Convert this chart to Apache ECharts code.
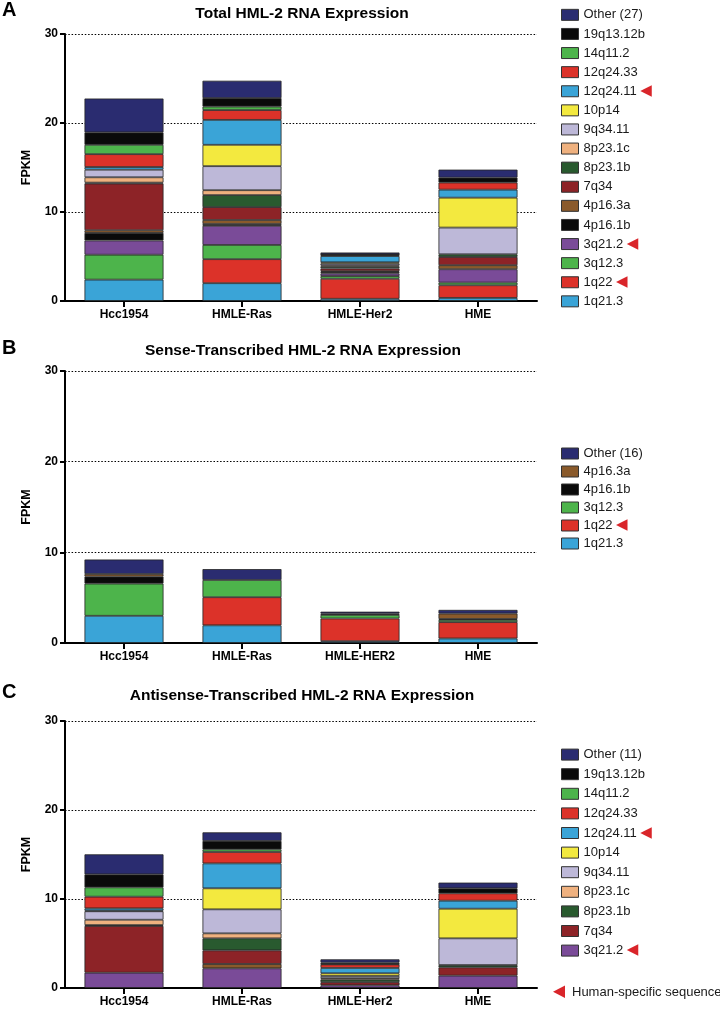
<!DOCTYPE html>
<html>
<head>
<meta charset="utf-8">
<script src="https://cdn.jsdelivr.net/npm/echarts@6/dist/echarts.min.js"></script>
<style>
html,body{margin:0;padding:0;background:#fff;}
#chart{width:720px;height:1010px;}
</style>
</head>
<body>
<div id="chart"></div>
<script>
// ---------- DATA ----------
const catsTotal = ['Hcc1954', 'HMLE-Ras', 'HMLE-Her2', 'HME'];
const catsSense = ['Hcc1954', 'HMLE-Ras', 'HMLE-HER2', 'HME'];
const catsAnti  = ['Hcc1954', 'HMLE-Ras', 'HMLE-Her2', 'HME'];
const yTicks = [0, 10, 20, 30];

// Panel A: Total HML-2 RNA expression (FPKM), stacked bottom -> top
const tot_1q21_3   = [2.4, 2.0, 0.25, 0.35];
const tot_1q22     = [null, 2.7, 2.25, 1.42];
const tot_3q12_3   = [2.8, 1.6, 0.3, 0.3];
const tot_3q21_2   = [1.6, 2.15, 0.3, 1.5];
const tot_4p16_1b  = [0.85, 0.2, 0.15, null];
const tot_4p16_3a  = [0.3, 0.45, 0.1, 0.45];
const tot_7q34     = [5.25, 1.45, 0.3, 0.93];
const tot_8p23_1b  = [0.1, 1.35, 0.2, 0.3];
const tot_8p23_1c  = [0.6, 0.55, 0.15, null];
const tot_9q34_11  = [0.85, 2.7, 0.2, 3.0];
const tot_10p14    = [null, 2.4, 0.15, 3.36];
const tot_12q24_11 = [0.3, 2.8, 0.7, 0.9];
const tot_12q24_33 = [1.45, 1.1, 0.1, 0.8];
const tot_14q11_2  = [1.05, 0.4, 0.05, null];
const tot_19q13_12b= [1.4, 0.95, 0.05, 0.55];
const tot_other    = [3.8, 1.95, 0.2, 0.9];

// Panel B: Sense-transcribed
const sen_1q21_3  = [3.0, 1.95, 0.2, 0.5];
const sen_1q22    = [null, 3.1, 2.5, 1.8];
const sen_3q12_3  = [3.55, 1.9, 0.4, 0.25];
const sen_4p16_1b = [0.78, null, 0.15, 0.1];
const sen_4p16_3a = [0.28, null, null, 0.6];
const sen_other   = [1.6, 1.2, 0.2, 0.4];

// Panel C: Antisense-transcribed
const ant_3q21_2   = [1.72, 2.21, 0.3, 1.39];
const ant_4p16_3a  = [null, 0.49, null, null];
const ant_7q34     = [5.25, 1.53, 0.35, 0.93];
const ant_8p23_1b  = [0.1, 1.35, 0.3, 0.26];
const ant_8p23_1c  = [0.6, 0.56, 0.15, null];
const ant_9q34_11  = [0.95, 2.7, 0.25, 3.0];
const ant_10p14    = [0.08, 2.36, 0.3, 3.33];
const ant_12q24_11 = [0.25, 2.8, 0.6, 0.9];
const ant_12q24_33 = [1.31, 1.28, 0.4, 0.83];
const ant_14q11_2  = [1.05, 0.3, 0.05, null];
const ant_19q13_12b= [1.46, 0.94, 0.15, 0.56];
const ant_other    = [2.25, 0.97, 0.37, 0.64];

const humanSpecific = ['12q24.11', '3q21.2', '1q22'];

// series lists (bottom -> top)
const totalList = [
  ['1q21.3', tot_1q21_3], ['1q22', tot_1q22], ['3q12.3', tot_3q12_3], ['3q21.2', tot_3q21_2],
  ['4p16.1b', tot_4p16_1b], ['4p16.3a', tot_4p16_3a], ['7q34', tot_7q34], ['8p23.1b', tot_8p23_1b],
  ['8p23.1c', tot_8p23_1c], ['9q34.11', tot_9q34_11], ['10p14', tot_10p14], ['12q24.11', tot_12q24_11],
  ['12q24.33', tot_12q24_33], ['14q11.2', tot_14q11_2], ['19q13.12b', tot_19q13_12b], ['Other (27)', tot_other]
];
const senseList = [
  ['1q21.3', sen_1q21_3], ['1q22', sen_1q22], ['3q12.3', sen_3q12_3],
  ['4p16.1b', sen_4p16_1b], ['4p16.3a', sen_4p16_3a], ['Other (16)', sen_other]
];
const antiList = [
  ['3q21.2', ant_3q21_2], ['4p16.3a', ant_4p16_3a], ['7q34', ant_7q34], ['8p23.1b', ant_8p23_1b],
  ['8p23.1c', ant_8p23_1c], ['9q34.11', ant_9q34_11], ['10p14', ant_10p14], ['12q24.11', ant_12q24_11],
  ['12q24.33', ant_12q24_33], ['14q11.2', ant_14q11_2], ['19q13.12b', ant_19q13_12b], ['Other (11)', ant_other]
];
const legendA = ['Other (27)','19q13.12b','14q11.2','12q24.33','12q24.11','10p14','9q34.11','8p23.1c','8p23.1b','7q34','4p16.3a','4p16.1b','3q21.2','3q12.3','1q22','1q21.3'];
const legendB = ['Other (16)','4p16.3a','4p16.1b','3q12.3','1q22','1q21.3'];
const legendC = ['Other (11)','19q13.12b','14q11.2','12q24.33','12q24.11','10p14','9q34.11','8p23.1c','8p23.1b','7q34','3q21.2'];

// ---------- STYLE ----------
const NAVY='#2a2c70', BLACK='#0a0a0a', GREEN='#4db44b', RED='#dc3229', BLUE='#3aa4d7',
      YELLOW='#f3e93f', LAV='#bdb8d8', PEACH='#efb17f', DKGREEN='#295a2f', DKRED='#8d2327',
      BROWN='#8a5a2b', PURPLE='#7a4b98';
const COLORS = {
  '1q21.3': BLUE, '1q22': RED, '3q12.3': GREEN, '3q21.2': PURPLE, '4p16.1b': BLACK, '4p16.3a': BROWN,
  '7q34': DKRED, '8p23.1b': DKGREEN, '8p23.1c': PEACH, '9q34.11': LAV, '10p14': YELLOW,
  '12q24.11': BLUE, '12q24.33': RED, '14q11.2': GREEN, '19q13.12b': BLACK,
  'Other (27)': NAVY, 'Other (16)': NAVY, 'Other (11)': NAVY
};
const FONT = 'Arial, "Liberation Sans", Helvetica, sans-serif';

const grids = [
  {left: 65, top: 34,  width: 472, height: 267},
  {left: 65, top: 371, width: 472, height: 272},
  {left: 65, top: 721, width: 472, height: 267}
];

function xAxis(idx, cats) {
  return {
    type: 'category', gridIndex: idx, data: cats,
    axisLine: {show: true, lineStyle: {color: '#000', width: 2}},
    axisTick: {show: true, alignWithLabel: true, length: 6, lineStyle: {color: '#000', width: 2}},
    axisLabel: {color: '#000', fontWeight: 'bold', fontSize: 12, fontFamily: FONT, margin: 8},
    splitLine: {show: false}
  };
}
function yAxis(idx) {
  return {
    type: 'value', gridIndex: idx, min: yTicks[0], max: yTicks[yTicks.length - 1], interval: 10,
    name: 'FPKM', nameLocation: 'middle', nameGap: 32, nameRotate: 90,
    nameTextStyle: {color: '#000', fontWeight: 'bold', fontSize: 12.5, fontFamily: FONT},
    axisLine: {show: true, lineStyle: {color: '#000', width: 2}},
    axisTick: {show: true, length: 5, lineStyle: {color: '#000', width: 2}},
    axisLabel: {color: '#000', fontWeight: 'bold', fontSize: 12, fontFamily: FONT, margin: 7},
    splitLine: {show: true, lineStyle: {color: '#000', width: 1.2, type: [1.5, 1.8]}}
  };
}
function buildSeries(list, idx) {
  return list.map(([name, data]) => ({
    name, type: 'bar', stack: 'panel' + idx, xAxisIndex: idx, yAxisIndex: idx,
    data, barWidth: 79,
    itemStyle: {color: COLORS[name], borderColor: '#262626', borderWidth: 0.8},
    emphasis: {disabled: true}
  }));
}
function legend(data, top, step) {
  return {
    orient: 'vertical', left: 556, top, itemGap: 0, itemWidth: 17, itemHeight: 11,
    icon: 'rect', data, selectedMode: false,
    itemStyle: {borderColor: '#333', borderWidth: 1},
    formatter: n => humanSpecific.includes(n) ? n + ' {tri|◀}' : n,
    textStyle: {
      fontSize: 13, fontFamily: FONT, color: '#1a1a1a', lineHeight: step,
      rich: {tri: {color: '#d9252a', fontSize: 15, fontFamily: '"DejaVu Sans"', lineHeight: step}}
    }
  };
}

const option = {
  animation: false,
  backgroundColor: '#fff',
  grid: grids,
  xAxis: [xAxis(0, catsTotal), xAxis(1, catsSense), xAxis(2, catsAnti)],
  yAxis: [yAxis(0), yAxis(1), yAxis(2)],
  legend: [legend(legendA, 0.3, 19.1), legend(legendB, 439.5, 18), legend(legendC, 739.8, 19.6)],
  series: [].concat(buildSeries(totalList, 0), buildSeries(senseList, 1), buildSeries(antiList, 2)),
  graphic: [
    {type: 'text', left: 2, top: 0, style: {text: 'A', font: 'bold 20px ' + FONT, fill: '#000'}},
    {type: 'text', left: 2, top: 338, style: {text: 'B', font: 'bold 20px ' + FONT, fill: '#000'}},
    {type: 'text', left: 2, top: 682, style: {text: 'C', font: 'bold 20px ' + FONT, fill: '#000'}},
    {type: 'text', x: 302, y: 14, style: {text: 'Total HML-2 RNA Expression', font: 'bold 15.5px ' + FONT, fill: '#000', textAlign: 'center', textVerticalAlign: 'middle'}},
    {type: 'text', x: 303, y: 351, style: {text: 'Sense-Transcribed HML-2 RNA Expression', font: 'bold 15.5px ' + FONT, fill: '#000', textAlign: 'center', textVerticalAlign: 'middle'}},
    {type: 'text', x: 302, y: 696, style: {text: 'Antisense-Transcribed HML-2 RNA Expression', font: 'bold 15.5px ' + FONT, fill: '#000', textAlign: 'center', textVerticalAlign: 'middle'}},
    {type: 'polygon', shape: {points: [[565, 985.5], [565, 998], [553, 991.7]]}, style: {fill: '#d9252a'}},
    {type: 'text', x: 572, y: 992, style: {text: 'Human-specific sequence', font: '13px ' + FONT, fill: '#1a1a1a', textVerticalAlign: 'middle'}}
  ]
};

const chart = echarts.init(document.getElementById('chart'), null, {renderer: 'canvas'});
chart.setOption(option);
</script>
</body>
</html>
